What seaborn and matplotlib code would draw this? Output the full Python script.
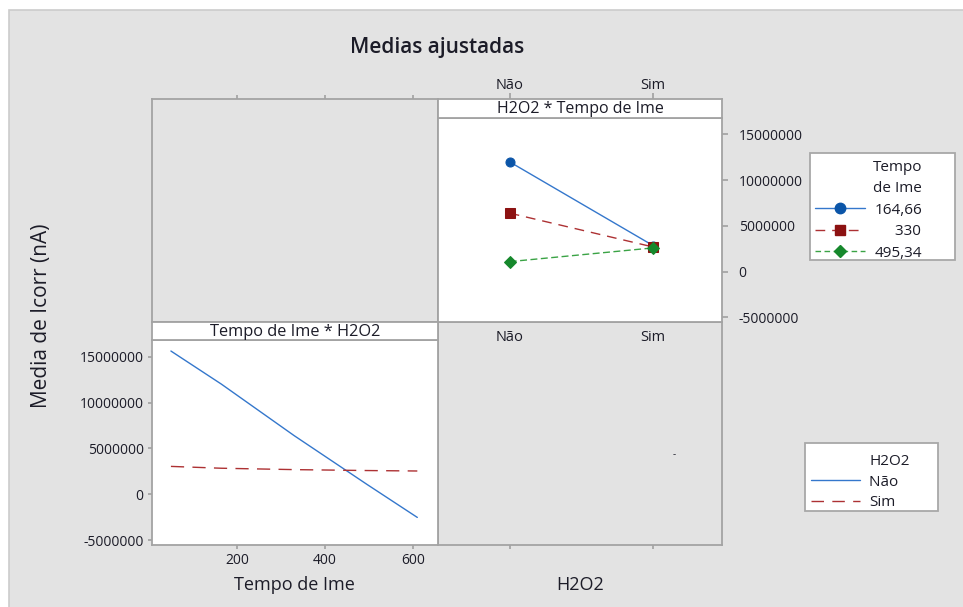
import matplotlib
matplotlib.use("Agg")
import matplotlib.pyplot as plt
from matplotlib.patches import Rectangle
from matplotlib.lines import Line2D
import pandas as pd
import seaborn as sns

# valores
tempo_levels = [164.66, 330, 495.34]
tempo_labels = ["164,66", "330", "495,34"]
h2o2_levels = ["Não", "Sim"]
nao_at_levels = [12.0e6, 6.4e6, 1.1e6]
sim_at_levels = [2.85e6, 2.7e6, 2.6e6]

tempo_curve = [50, 164.66, 330, 495.34, 610]
nao_curve = [15.6e6, 12.0e6, 6.4e6, 1.1e6, -2.5e6]
sim_curve = [3.05e6, 2.85e6, 2.7e6, 2.6e6, 2.55e6]

y_ticks = [15000000, 10000000, 5000000, 0, -5000000]
x_ticks = [200, 400, 600]

sns.set_theme(style="white")
plt.rcParams['font.family'] = ['Open Sans', 'DejaVu Sans']

W, H = 963, 607
fig = plt.figure(figsize=(W / 100, H / 100), dpi=100)
fig.patch.set_facecolor("white")
fig.patches.append(Rectangle((9 / W, -0.1), 1.2, 1.1 - 10 / H, transform=fig.transFigure,
                             facecolor="#e3e3e3", edgecolor="#cccccc", lw=1.2, zorder=-10))

GREY = "#e3e3e3"
SPINE = "#a3a3a3"
TXT = "#1c1c28"
ylim = (-5.5e6, 16.8e6)

def box(x0, y0, x1, y1):
    # caixa em pixels -> fracao da figura
    return [x0 / W, 1 - y1 / H, (x1 - x0) / W, (y1 - y0) / H]

def style_spines(ax):
    for s in ax.spines.values():
        s.set_color(SPINE)
        s.set_linewidth(1.3)

blue, red, green = "#3477cc", "#ad3133", "#3aa345"
mk_cols = ["#0b55a8", "#8c1212", "#16882c"]

# painel superior esquerdo (vazio)
ax_tl = fig.add_axes(box(152, 99, 438, 322))
ax_tl.set_facecolor(GREY)
style_spines(ax_tl)
ax_tl.set_xlim(7, 657)
ax_tl.set_xticks(x_ticks)
ax_tl.tick_params(axis="x", bottom=False, top=True, labelbottom=False, labeltop=False,
                  length=3, color=SPINE, direction="out")
ax_tl.set_yticks([])

# painel inferior direito (vazio)
ax_br = fig.add_axes(box(438, 322, 722, 545))
ax_br.set_facecolor(GREY)
style_spines(ax_br)
ax_br.set_xlim(-0.5, 1.48)
ax_br.set_ylim(ylim)
ax_br.set_xticks([0, 1])
ax_br.tick_params(axis="x", bottom=True, labelbottom=False, length=3, color=SPINE, direction="out")
ax_br.set_yticks([])
ax_br.text(1.15, 3.5e6, "-", fontsize=7, color=TXT, ha="center", va="center")

# painel superior direito: H2O2 * Tempo de Ime
df_tr = pd.DataFrame({
    "pos": [0, 0, 0, 1, 1, 1],
    "tempo": tempo_labels + tempo_labels,
    "valor": nao_at_levels + sim_at_levels,
})
ax_tr = fig.add_axes(box(438, 118, 722, 322))
ax_tr.set_facecolor("white")
style_spines(ax_tr)
sns.lineplot(data=df_tr, x="pos", y="valor", hue="tempo", style="tempo",
             palette=dict(zip(tempo_labels, [blue, red, green])),
             markers=dict(zip(tempo_labels, ["o", "s", "D"])),
             dashes=dict(zip(tempo_labels, ["", (7, 5), (5, 2.5)])),
             markersize=6.5, lw=1.0, legend=False, ax=ax_tr)
for ln, c in zip(ax_tr.lines, mk_cols):
    ln.set_markerfacecolor(c)
    ln.set_markeredgecolor(c)
ax_tr.set_xlim(-0.5, 1.48)
ax_tr.set_ylim(ylim)
ax_tr.set_xticks([0, 1])
ax_tr.set_xticklabels(h2o2_levels)
ax_tr.yaxis.tick_right()
ax_tr.set_yticks(y_ticks)
ax_tr.set_yticklabels([str(v) for v in y_ticks])
ax_tr.tick_params(axis="x", direction="in", length=6, width=1.2, color="#333333",
                  pad=6, labelsize=10.5, labelcolor=TXT)
ax_tr.tick_params(axis="y", right=True, direction="out", length=4, color=SPINE,
                  pad=8, labelsize=10, labelcolor=TXT)
ax_tr.set_xlabel("")
ax_tr.set_ylabel("")

strip_tr = fig.add_axes(box(438, 99, 722, 118))
strip_tr.set_facecolor("white")
style_spines(strip_tr)
strip_tr.set_xlim(-0.5, 1.48)
strip_tr.set_xticks([0, 1])
strip_tr.set_xticklabels(h2o2_levels)
strip_tr.set_yticks([])
strip_tr.tick_params(axis="x", bottom=False, labelbottom=False, top=True, labeltop=True,
                     length=4, color=SPINE, pad=0.5, labelsize=10.5, labelcolor=TXT)
strip_tr.text(0.5, 0.45, "H2O2 * Tempo de Ime", transform=strip_tr.transAxes,
              ha="center", va="center", fontsize=11.5, color=TXT)

# painel inferior esquerdo: Tempo de Ime * H2O2
df_bl = pd.DataFrame({
    "tempo": tempo_curve + tempo_curve,
    "valor": nao_curve + sim_curve,
    "H2O2": ["Não"] * len(tempo_curve) + ["Sim"] * len(tempo_curve),
})
ax_bl = fig.add_axes(box(152, 340, 438, 545))
ax_bl.set_facecolor("white")
style_spines(ax_bl)
sns.lineplot(data=df_bl, x="tempo", y="valor", hue="H2O2", style="H2O2",
             palette={"Não": blue, "Sim": red},
             dashes={"Não": "", "Sim": (9.5, 6)},
             lw=1.0, legend=False, ax=ax_bl)
ax_bl.set_xlim(7, 657)
ax_bl.set_ylim(ylim)
ax_bl.set_xticks(x_ticks)
ax_bl.set_yticks(y_ticks)
ax_bl.set_yticklabels([str(v) for v in y_ticks])
ax_bl.tick_params(axis="both", direction="out", length=3, color=SPINE, pad=3,
                  labelsize=10, labelcolor=TXT, left=True, bottom=True)
ax_bl.set_xlabel("")
ax_bl.set_ylabel("")

strip_bl = fig.add_axes(box(152, 322, 438, 340))
strip_bl.set_facecolor("white")
style_spines(strip_bl)
strip_bl.set_xticks([])
strip_bl.set_yticks([])
strip_bl.text(0.5, 0.45, "Tempo de Ime * H2O2", transform=strip_bl.transAxes,
              ha="center", va="center", fontsize=11.8, color=TXT)

# titulos e rotulos
fig.text(437 / W, 1 - 48 / H, "Medias ajustadas", ha="center", va="center",
         fontsize=15, fontweight="semibold", color=TXT)
fig.text(42 / W, 1 - 316 / H, "Media de Icorr (nA)", rotation=90, ha="center",
         va="center", fontsize=15, color=TXT)
fig.text(294 / W, 1 - 585 / H, "Tempo de Ime", ha="center", va="center",
         fontsize=13, color=TXT)
fig.text(580 / W, 1 - 585 / H, "H2O2", ha="center", va="center",
         fontsize=13, color=TXT)

# legendas (caixa desenhada a parte)
def leg_box(x0, y0, x1, y1):
    fig.patches.append(Rectangle((x0 / W, 1 - y1 / H), (x1 - x0) / W, (y1 - y0) / H,
                                 transform=fig.transFigure, facecolor="white",
                                 edgecolor="#a8a8a8", lw=1.3, zorder=1))

leg_box(810, 153, 955, 260)
h1 = [Line2D([], [], color=blue, lw=1.0, marker="o", ms=7.5, mfc=mk_cols[0], mec=mk_cols[0]),
      Line2D([], [], color=red, lw=1.0, dashes=(7, 5), marker="s", ms=7.5, mfc=mk_cols[1], mec=mk_cols[1]),
      Line2D([], [], color=green, lw=1.0, dashes=(4, 2.5), marker="D", ms=6.5, mfc=mk_cols[2], mec=mk_cols[2])]
lab1 = [tempo_labels[0], "     " + tempo_labels[1], tempo_labels[2]]
leg1 = fig.legend(h1, lab1, title="Tempo\nde Ime", loc="upper left",
                  bbox_to_anchor=(812 / W, 1 - 157 / H), fontsize=11, title_fontsize=11,
                  frameon=False, handlelength=3.3, handletextpad=0.6, labelspacing=0.43,
                  borderpad=0.2, borderaxespad=0, alignment="right")
leg1.get_title().set_linespacing(1.55)
leg1.get_title().set_color(TXT)
for t in leg1.get_texts():
    t.set_color(TXT)

leg_box(805, 443, 938, 511)
h2 = [Line2D([], [], color=blue, lw=1.0),
      Line2D([], [], color=red, lw=1.0, dashes=(9, 6))]
lab2 = [h2o2_levels[0] + "   ", h2o2_levels[1]]
leg2 = fig.legend(h2, lab2, title="H2O2", loc="upper left",
                  bbox_to_anchor=(808 / W, 1 - 451 / H), fontsize=11, title_fontsize=11,
                  frameon=False, handlelength=3.2, handletextpad=0.6, labelspacing=0.36,
                  borderpad=0.2, borderaxespad=0, alignment="right")
leg2.get_title().set_color(TXT)
for t in leg2.get_texts():
    t.set_color(TXT)

fig.savefig("out.png", dpi=100, facecolor=fig.get_facecolor())
